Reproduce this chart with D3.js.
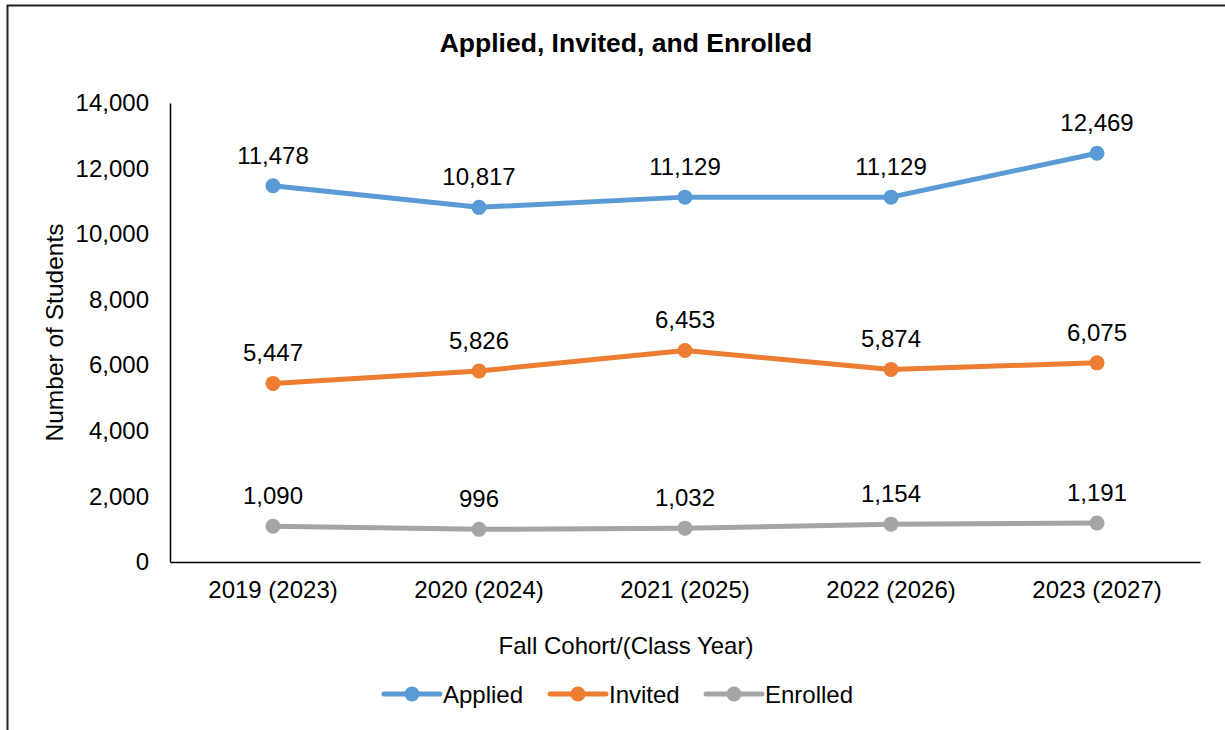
<!DOCTYPE html>
<html>
<head>
<meta charset="utf-8">
<script src="https://cdn.jsdelivr.net/npm/d3@7"></script>
<style>
  body { margin: 0; background: #fff; }
  svg text { font-family: "Liberation Sans", Arial, sans-serif; fill: #000; }
</style>
</head>
<body>
<svg id="chart"></svg>
<script>
var cohorts = ["2019 (2023)", "2020 (2024)", "2021 (2025)", "2022 (2026)", "2023 (2027)"]
var applied = [11478, 10817, 11129, 11129, 12469]
var invited = [5447, 5826, 6453, 5874, 6075]
var enrolled = [1090, 996, 1032, 1154, 1191]
var yTicks = [0, 2000, 4000, 6000, 8000, 10000, 12000, 14000]

var series = [
    {name: "Applied", values: applied, color: "#5B9BD5"},
    {name: "Invited", values: invited, color: "#ED7D31"},
    {name: "Enrolled", values: enrolled, color: "#A5A5A5"}
]

var screen = {width: 1225, height: 730}
var margins = {left: 170, right: 25, top: 103, bottom: 168}
var fontSize = "24px"

var svg = d3.select("#chart")
    .attr("width", screen.width)
    .attr("height", screen.height)

// chart frame (runs off the right and bottom edge in the original)
svg.append("rect")
    .attr("x", 7.5).attr("y", 5.5)
    .attr("width", 1240).attr("height", 760)
    .attr("fill", "none")
    .attr("stroke", "#222")
    .attr("stroke-width", 2)

var xScale = d3.scaleBand()
    .domain(cohorts)
    .range([margins.left, screen.width - margins.right])

var yScale = d3.scaleLinear()
    .domain([0, 14000])
    .range([screen.height - margins.bottom, margins.top])

var fmt = d3.format(",")

// y axis
var yAxis = svg.append("g")
    .attr("transform", "translate(" + margins.left + ",0)")
    .call(d3.axisLeft(yScale).tickValues(yTicks).tickFormat(fmt).tickSize(0).tickPadding(21))
yAxis.select(".domain").attr("stroke", "#000").attr("stroke-width", 1.5)
yAxis.selectAll("text").style("font-size", fontSize)

// x axis
var xAxis = svg.append("g")
    .attr("transform", "translate(0," + yScale(0) + ")")
    .call(d3.axisBottom(xScale).tickSize(0).tickPadding(19))
xAxis.select(".domain").attr("stroke", "#000").attr("stroke-width", 1.5)
xAxis.selectAll("text").style("font-size", fontSize)

// lines and points
var line = d3.line()
    .x(function(d, i) { return xScale(cohorts[i]) + xScale.bandwidth() / 2 })
    .y(function(d) { return yScale(d) })

var groups = svg.selectAll(".series")
    .data(series)
    .enter()
    .append("g")
    .attr("class", "series")

groups.append("path")
    .attr("d", function(s) { return line(s.values) })
    .attr("fill", "none")
    .attr("stroke", function(s) { return s.color })
    .attr("stroke-width", 5)
    .attr("stroke-linejoin", "round")

groups.selectAll("circle")
    .data(function(s) { return s.values.map(function(v, i) { return {v: v, i: i, color: s.color} }) })
    .enter()
    .append("circle")
    .attr("cx", function(d) { return xScale(cohorts[d.i]) + xScale.bandwidth() / 2 })
    .attr("cy", function(d) { return yScale(d.v) })
    .attr("r", 7.5)
    .attr("fill", function(d) { return d.color })

groups.selectAll(".label")
    .data(function(s) { return s.values.map(function(v, i) { return {v: v, i: i} }) })
    .enter()
    .append("text")
    .attr("class", "label")
    .attr("x", function(d) { return xScale(cohorts[d.i]) + xScale.bandwidth() / 2 })
    .attr("y", function(d) { return yScale(d.v) - 22 })
    .attr("text-anchor", "middle")
    .style("font-size", fontSize)
    .text(function(d) { return fmt(d.v) })

// titles
svg.append("text")
    .text("Applied, Invited, and Enrolled")
    .attr("x", 626).attr("y", 52)
    .attr("text-anchor", "middle")
    .style("font-size", "26.5px")
    .style("font-weight", "bold")

svg.append("text")
    .text("Fall Cohort/(Class Year)")
    .attr("x", 626).attr("y", 654)
    .attr("text-anchor", "middle")
    .style("font-size", fontSize)

svg.append("text")
    .text("Number of Students")
    .attr("transform", "translate(63," + (yScale(7000)) + ") rotate(-90)")
    .attr("text-anchor", "middle")
    .style("font-size", "24.5px")

// legend
var legendX = [384, 550, 706]
var legend = svg.selectAll(".legend")
    .data(series)
    .enter()
    .append("g")
    .attr("class", "legend")
    .attr("transform", function(s, i) { return "translate(" + legendX[i] + ",694)" })

legend.append("line")
    .attr("x1", 0).attr("x2", 56)
    .attr("stroke", function(s) { return s.color })
    .attr("stroke-width", 5)
    .attr("stroke-linecap", "round")

legend.append("circle")
    .attr("cx", 28).attr("r", 7.5)
    .attr("fill", function(s) { return s.color })

legend.append("text")
    .attr("x", 59).attr("y", 8.5)
    .style("font-size", fontSize)
    .text(function(s) { return s.name })
</script>
</body>
</html>
